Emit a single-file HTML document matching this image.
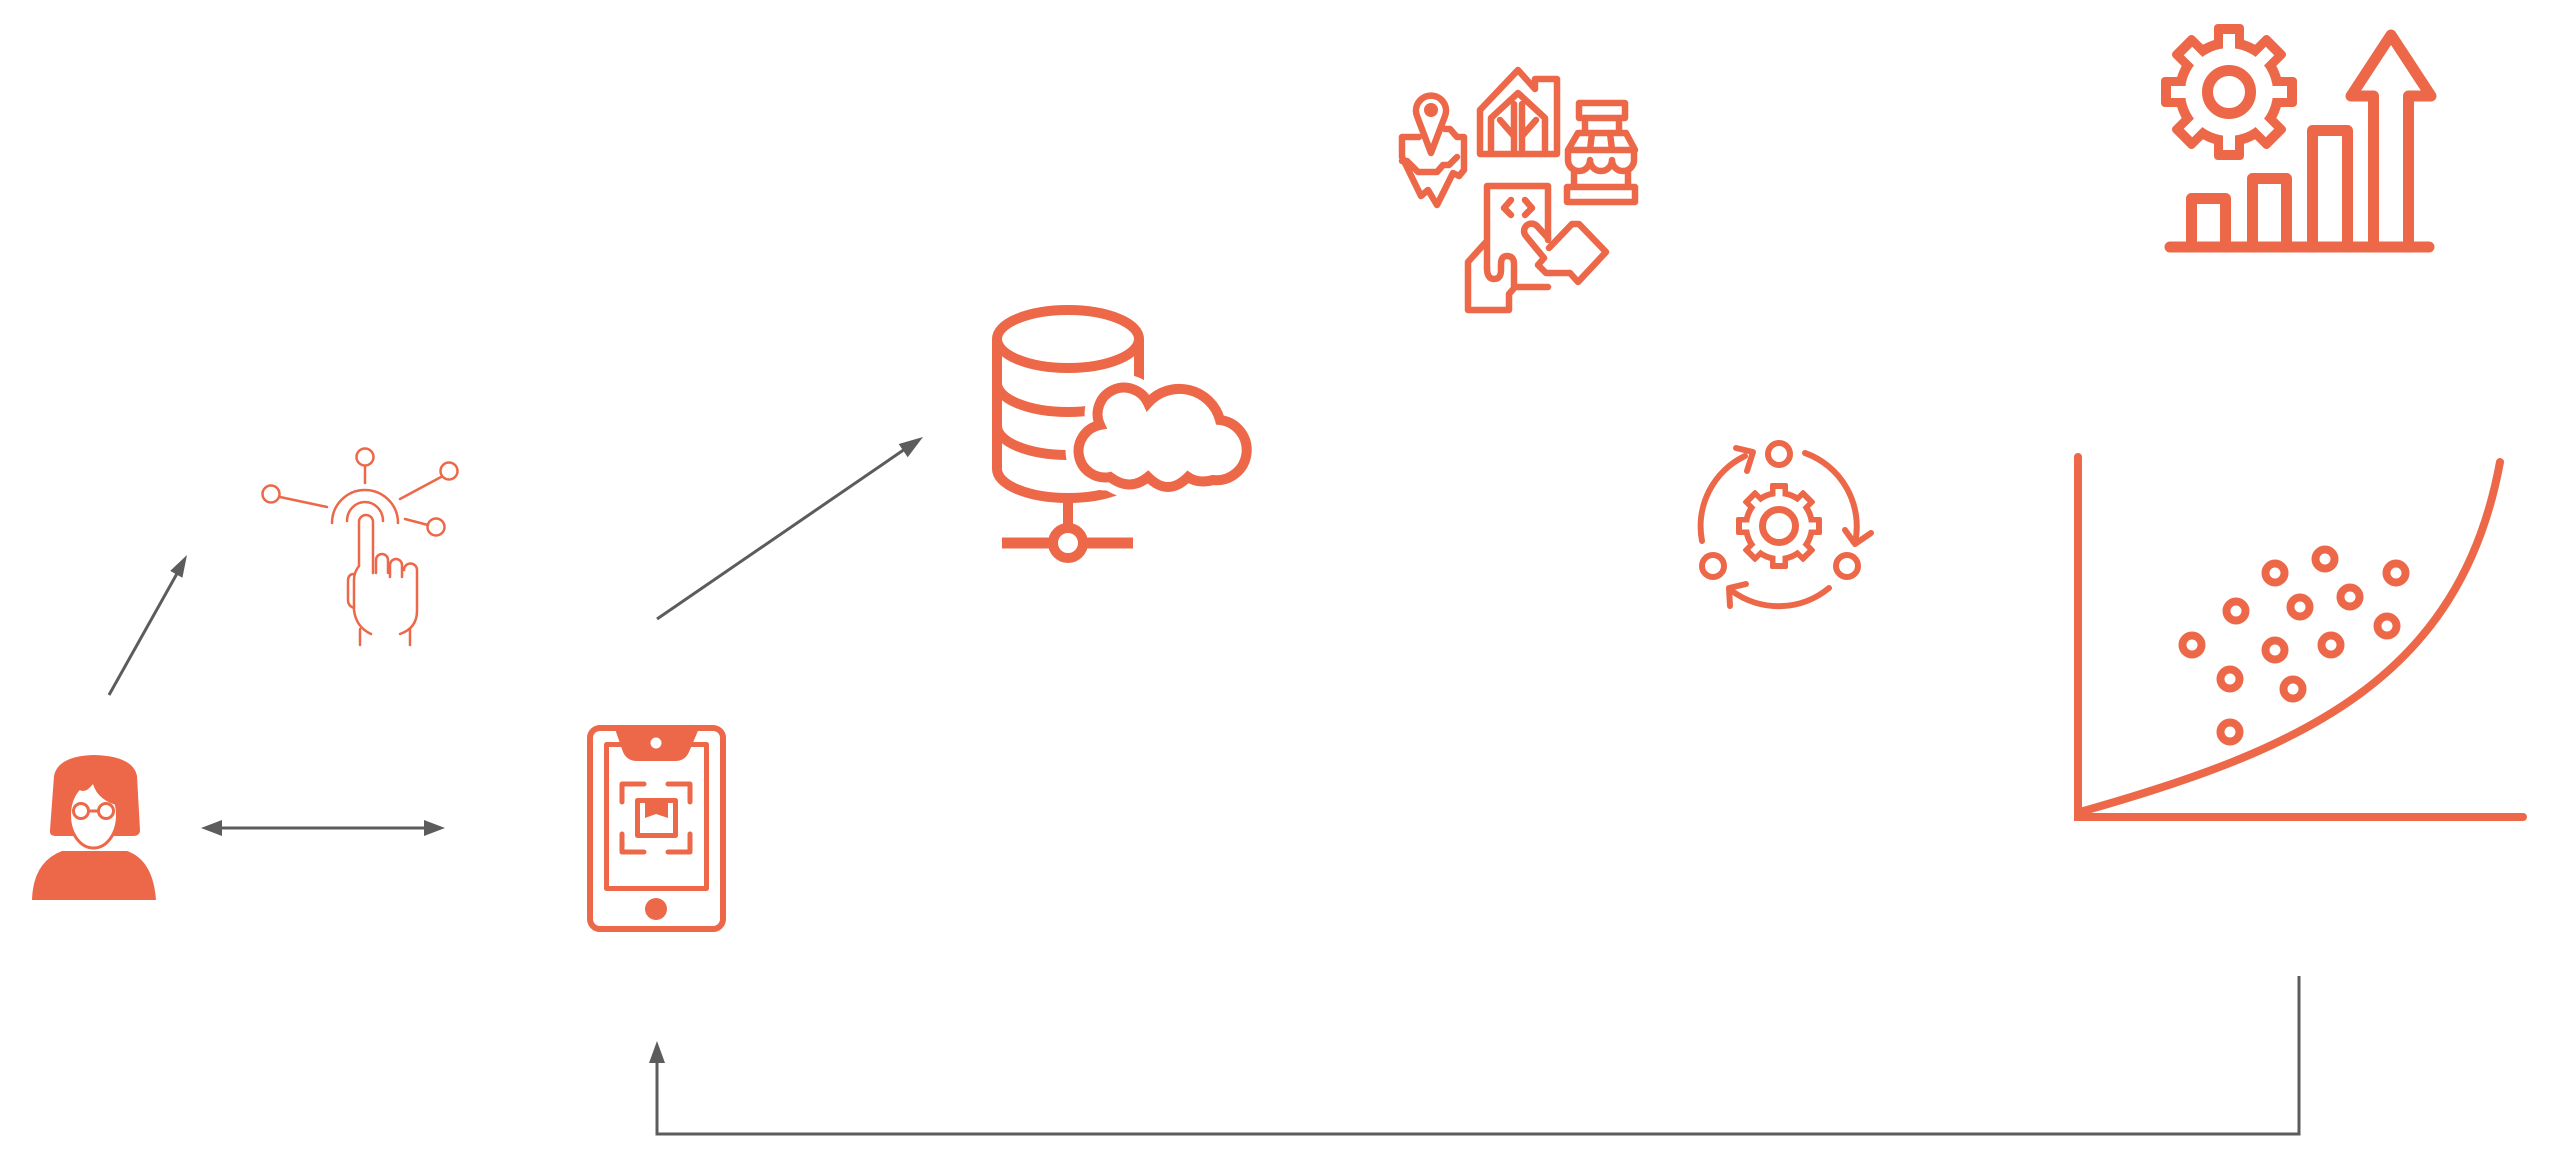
<!DOCTYPE html>
<html><head><meta charset="utf-8"><style>
html,body{margin:0;padding:0;background:#fff;}
svg{display:block;}
</style></head><body>
<svg width="2562" height="1160" viewBox="0 0 2562 1160" xmlns="http://www.w3.org/2000/svg">
<defs>
<rect id="tB" x="-15" y="-68" width="30" height="30" rx="4"/>
<rect id="tW" x="-6" y="-58" width="12" height="22"/>
<rect id="sB" x="-9" y="-43" width="18" height="14" rx="2"/>
<rect id="sW" x="-3.5" y="-37" width="7" height="10"/>
</defs>
<rect width="2562" height="1160" fill="#fff"/>

<!-- gray connectors -->
<g stroke="#5c5c5c" stroke-width="3" fill="none">
<line x1="109" y1="695" x2="179" y2="570"/>
<line x1="218" y1="828" x2="428" y2="828"/>
<line x1="657" y1="619" x2="905" y2="449"/>
<polyline points="2299,976 2299,1134 657,1134 657,1060"/>
</g>
<g fill="#5c5c5c">
<polygon points="187,555 182.4,577.7 170.2,570.9"/>
<polygon points="201,828 222,820 222,836"/>
<polygon points="445,828 424,820 424,836"/>
<polygon points="923,437 907.7,457.2 898.7,444"/>
<polygon points="657,1041 649,1063 665,1063"/>
</g>

<!-- person -->
<g fill="#EC6848">
<path d="M50,830 L54,776 Q58,756 94,755 Q133,756 137,776 L140,830 Q140,836 133,836 H56 Q49,836 50,830 Z"/>
<ellipse cx="93.5" cy="815" rx="24" ry="33" fill="#fff" stroke="#EC6848" stroke-width="3"/>
<path d="M67,805 Q68,784 76,786 Q83,797 93,784 Q98,801 120,806 L120,778 L67,778 Z"/>
<path d="M32,900 Q33,862 62,851 H127 Q153,860 156,900 Z"/>
</g>
<g fill="#fff" stroke="#EC6848" stroke-width="3">
<circle cx="81" cy="811" r="7.5"/><circle cx="106" cy="811" r="7.5"/>
<line x1="88.5" y1="811" x2="98.5" y2="811"/>
</g>

<!-- hand icon -->
<g fill="none" stroke="#EC6848" stroke-width="2.5" stroke-linecap="round">
<circle cx="365" cy="457" r="8.5"/><circle cx="271" cy="494" r="8.5"/>
<circle cx="449" cy="471" r="8.5"/><circle cx="436" cy="527" r="8.5"/>
<line x1="365" y1="466" x2="365" y2="483"/>
<line x1="280" y1="497" x2="327" y2="507"/>
<line x1="441" y1="477" x2="400" y2="499"/>
<line x1="428" y1="525" x2="405" y2="519"/>
<path d="M332,523 A33,33 0 0 1 398,523"/>
<path d="M347,521 A18,19 0 0 1 383,521"/>
<path d="M359,566 V522 A7,7 0 0 1 373,522 V573"/>
<path d="M376,573 V560 A6,6 0 0 1 388,560 V573"/>
<path d="M390,577 V565 A6,6 0 0 1 402,565 V577"/>
<path d="M404,570 A6.5,6.5 0 0 1 417,570 V611 Q417,628 400,634"/>
<path d="M359,566 Q354,572 354,580 V610 Q356,627 371,634"/>
<path d="M354,574 Q348,574 348,581 V600 Q348,606 354,608"/>
<path d="M360,629 V645 M410,629 V645"/>
</g>

<!-- phone -->
<g fill="none" stroke="#EC6848" stroke-linejoin="round">
<rect x="590" y="728" width="133" height="201" rx="10" stroke-width="6"/>
<rect x="606.5" y="744.5" width="100" height="144" stroke-width="5"/>
<path stroke-width="5" stroke-linecap="round" d="M622,802 V784 H644 M668,784 H690 V802 M622,834 V852 H644 M668,852 H690 V834"/>
<rect x="637.5" y="800.5" width="38" height="35" stroke-width="5"/>
</g>
<g fill="#EC6848">
<path d="M614,726 L700,726 L689,752 Q685,761 675,761 H637 Q627,761 623,752 Z"/>
<circle cx="656" cy="909" r="11"/>
<path d="M645,802 H668 V818 L656,814 L645,818 Z"/>
</g>
<circle cx="656" cy="743" r="5.5" fill="#fff"/>

<!-- database -->
<g fill="none" stroke="#EC6848" stroke-width="10">
<ellipse cx="1068" cy="339" rx="71" ry="29"/>
<path d="M997,339 V469 A71,29 0 0 0 1139,469 V339"/>
<path d="M997,383 A71,29 0 0 0 1139,383"/>
<path d="M997,426 A71,29 0 0 0 1139,426"/>
<line x1="1068" y1="498" x2="1068" y2="529"/>
<circle cx="1068" cy="543" r="15"/>
<line x1="1002" y1="543" x2="1053" y2="543" stroke-width="11"/>
<line x1="1083" y1="543" x2="1133" y2="543" stroke-width="11"/>
</g>
<path d="M1110,477 A26,26 0 0 1 1100,425 A24,24 0 0 1 1148,403 A42,42 0 0 1 1220,420 A28,28 0 0 1 1213,480 Q1198,484 1188,477 Q1168,497 1148,477 Q1130,492 1110,477 Z" fill="#fff" stroke="#fff" stroke-width="26"/>
<path d="M1110,477 A26,26 0 0 1 1100,425 A24,24 0 0 1 1148,403 A42,42 0 0 1 1220,420 A28,28 0 0 1 1213,480 Q1198,484 1188,477 Q1168,497 1148,477 Q1130,492 1110,477 Z" fill="#fff" stroke="#EC6848" stroke-width="10"/>

<!-- town / apps icon -->
<g fill="none" stroke="#EC6848" stroke-width="6.5" stroke-linejoin="round" stroke-linecap="round">
<path d="M1431,153 L1417,116 A15,15 0 1 1 1445,116 Z"/>
<path d="M1419,137 H1402 V157 L1421,196 L1428,190 L1437,205 L1453,173 L1459,176 L1464,170 V137 H1457 L1450,129 H1445"/>
<path d="M1402,161 H1407 L1418,172 H1437 L1443,165 H1449 L1457,157"/>
<path d="M1480,154 V110 L1518,70 L1535,89 V79 H1557 V154 Z"/>
<path d="M1491,154 V118 L1518,93 L1545,118 V154"/>
<path d="M1514,104 V154 M1522,104 V154 M1500,120 L1514,136 M1536,120 L1522,136"/>
<rect x="1579" y="103" width="46" height="15"/>
<path d="M1585,118 V131 M1619,118 V131"/>
<path d="M1568,150 L1578,133 H1626 L1635,150 Z M1590,150 L1592,133 M1612,150 L1610,133"/>
<path d="M1568,151 V160 A11,11 0 0 0 1590,160 A11,11 0 0 0 1612,160 A11,11 0 0 0 1634,160 V151"/>
<path d="M1574,170 V186 M1628,170 V186"/>
<rect x="1567" y="187" width="68" height="15"/>
<path d="M1487,268 V186 H1548 V240"/>
<path d="M1511,200 L1504,208 L1511,215 M1525,200 L1532,208 L1525,215"/>
<path d="M1548,238 L1537,226 A7,7 0 0 0 1526,236 L1544,258 L1538,265 L1546,273 H1570 L1578,282 L1606,252 L1579,224 H1572 L1549,248"/>
<path d="M1485,243 L1468,262 V310 H1509 V294 L1515,287 H1548"/>
<path d="M1487,268 Q1487,279 1494,279 Q1501,279 1501,270 V264 Q1501,256 1507,256 Q1514,256 1514,264 V286"/>
</g>
<circle cx="1431" cy="110" r="7" fill="#EC6848"/>

<!-- cycle icon -->
<g fill="none" stroke="#EC6848" stroke-width="6" stroke-linecap="round" stroke-linejoin="round">
<circle cx="1779" cy="454" r="11"/><circle cx="1713" cy="566" r="11"/><circle cx="1847" cy="566" r="11"/>
<path d="M1702,541 A78,78 0 0 1 1745,456"/>
<polyline points="1736,448 1753,452 1747,471"/>
<path d="M1805,453 A78,78 0 0 1 1855,543"/>
<polyline points="1845,530 1855,544 1871,533"/>
<path d="M1829,588 A79,79 0 0 1 1732,591"/>
<polyline points="1746,584 1729,588 1730,606"/>
</g>
<g transform="translate(1779,526)">
<circle r="36" fill="#EC6848"/>
<g fill="#EC6848"><use href="#sB"/><use href="#sB" transform="rotate(45)"/><use href="#sB" transform="rotate(90)"/><use href="#sB" transform="rotate(135)"/><use href="#sB" transform="rotate(180)"/><use href="#sB" transform="rotate(225)"/><use href="#sB" transform="rotate(270)"/><use href="#sB" transform="rotate(315)"/></g>
<circle r="30" fill="#fff"/>
<g fill="#fff"><use href="#sW"/><use href="#sW" transform="rotate(45)"/><use href="#sW" transform="rotate(90)"/><use href="#sW" transform="rotate(135)"/><use href="#sW" transform="rotate(180)"/><use href="#sW" transform="rotate(225)"/><use href="#sW" transform="rotate(270)"/><use href="#sW" transform="rotate(315)"/></g>
<circle r="16.5" fill="none" stroke="#EC6848" stroke-width="7"/>
</g>

<!-- gear + bars -->
<g transform="translate(2229,92)">
<circle r="54" fill="#EC6848"/>
<g fill="#EC6848"><use href="#tB"/><use href="#tB" transform="rotate(45)"/><use href="#tB" transform="rotate(90)"/><use href="#tB" transform="rotate(135)"/><use href="#tB" transform="rotate(180)"/><use href="#tB" transform="rotate(225)"/><use href="#tB" transform="rotate(270)"/><use href="#tB" transform="rotate(315)"/></g>
<circle r="44" fill="#fff"/>
<g fill="#fff"><use href="#tW"/><use href="#tW" transform="rotate(45)"/><use href="#tW" transform="rotate(90)"/><use href="#tW" transform="rotate(135)"/><use href="#tW" transform="rotate(180)"/><use href="#tW" transform="rotate(225)"/><use href="#tW" transform="rotate(270)"/><use href="#tW" transform="rotate(315)"/></g>
<circle r="21.5" fill="none" stroke="#EC6848" stroke-width="11"/>
</g>
<g fill="none" stroke="#EC6848" stroke-width="11" stroke-linejoin="round" stroke-linecap="round">
<line x1="2170" y1="247" x2="2429" y2="247"/>
<path d="M2191.5,247 V198.5 H2225.5 V247"/>
<path d="M2252.5,247 V178.5 H2286.5 V247"/>
<path d="M2312.5,247 V130.5 H2347.5 V247"/>
<path d="M2373.5,247 V96 H2351 L2391,35 L2431,96 H2408.5 V247"/>
</g>

<!-- scatter chart -->
<g fill="none" stroke="#EC6848" stroke-width="8" stroke-linecap="round">
<path d="M2078,457 V817 H2523"/>
<path d="M2080,812 C2300,750 2460,680 2500,462"/>
<g stroke-width="8">
<circle cx="2275" cy="573" r="9.5"/><circle cx="2325" cy="559" r="9.5"/><circle cx="2396" cy="573" r="9.5"/>
<circle cx="2236" cy="611" r="9.5"/><circle cx="2300" cy="607" r="9.5"/><circle cx="2350" cy="597" r="9.5"/>
<circle cx="2192" cy="645" r="9.5"/><circle cx="2275" cy="650" r="9.5"/><circle cx="2331" cy="645" r="9.5"/>
<circle cx="2387" cy="626" r="9.5"/><circle cx="2230" cy="679" r="9.5"/><circle cx="2293" cy="689" r="9.5"/>
<circle cx="2230" cy="732" r="9.5"/>
</g>
</g>
</svg>
</body></html>
